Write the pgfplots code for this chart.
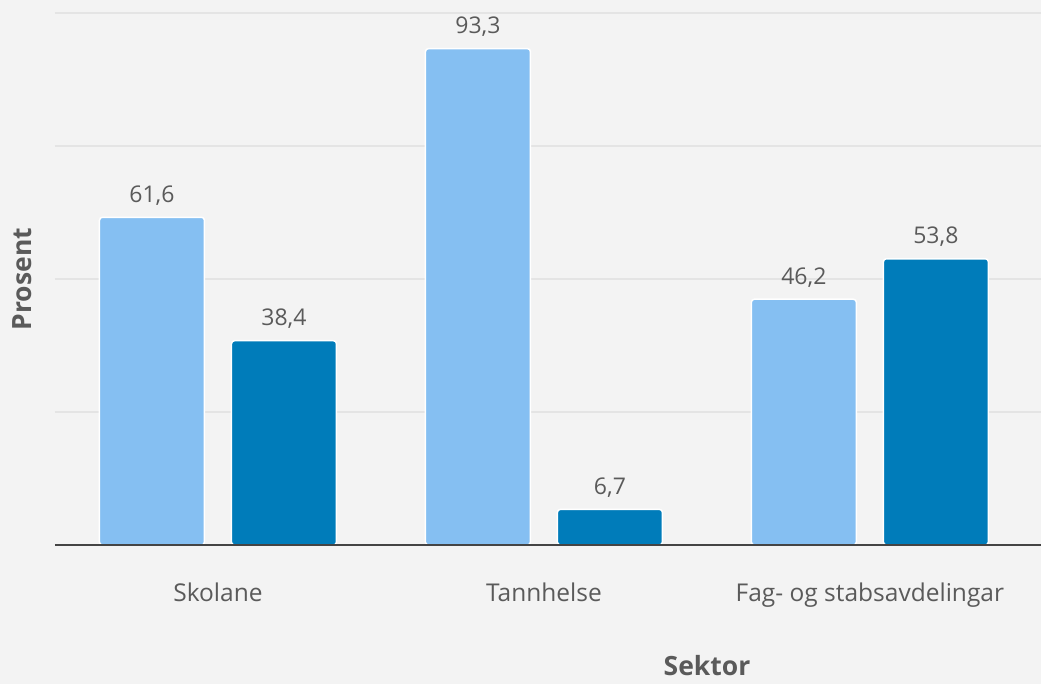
\documentclass[border=0pt]{standalone}
\usepackage{pgfplots}
\pgfplotsset{compat=1.18}
\usepackage{fontspec}
\setmainfont{Open Sans}
\definecolor{bg}{HTML}{F3F3F3}
\definecolor{lightb}{HTML}{85BFF2}
\definecolor{darkb}{HTML}{007CBA}
\definecolor{txt}{HTML}{5A5A5A}
\definecolor{gridc}{HTML}{E4E4E4}
\definecolor{axl}{HTML}{444444}
\begin{document}
\begin{tikzpicture}[x=1pt,y=1pt]
\useasboundingbox (-55,-139) rectangle (986,545);
\fill[bg] (-55,-139) rectangle (986,545);
\begin{axis}[
  at={(0,0)}, anchor=south west,
  scale only axis, width=986pt, height=532pt,
  xmin=-0.5, xmax=2.525, ymin=0, ymax=100,
  axis line style={draw=none},
  xtick={0,1,2}, xticklabels={Skolane,Tannhelse,Fag- og stabsavdelingar},
  ytick={25,50,75,100}, yticklabels={},
  ymajorgrids, grid style={color=gridc, line width=1.5pt},
  major tick length=0pt,
  xticklabel style={font=\fontsize{24.5}{28}\selectfont, text=txt, yshift=-34pt},
  ybar, bar width=105pt,
  nodes near coords,
  nodes near coords style={font=\fontsize{23}{26}\selectfont, text=txt, yshift=8pt,
    /pgf/number format/assume math mode=true,
    /pgf/number format/use comma, /pgf/number format/fixed, /pgf/number format/fixed zerofill, /pgf/number format/precision=1},
  xlabel={\bfseries Sektor}, xlabel style={font=\fontsize{26.5}{30}\selectfont, text=txt, at={(1,0)}, anchor=center, xshift=-334pt, yshift=-121pt},
  ylabel={\bfseries Prosent}, ylabel style={font=\fontsize{26.5}{30}\selectfont, text=txt, at={(0,0.5)}, anchor=center, yshift=33pt},
  clip=false,
]
\addplot[fill=lightb, draw=white, line width=1.5pt, rounded corners=3pt, bar shift=-66pt] coordinates {(0,61.6) (1,93.3) (2,46.2)};
\addplot[fill=darkb, draw=white, line width=1.5pt, rounded corners=3pt, bar shift=66pt] coordinates {(0,38.4) (1,6.7) (2,53.8)};
\draw[axl, line width=1.5pt] (axis cs:-0.5,0) -- (axis cs:2.525,0);
\end{axis}
\end{tikzpicture}
\end{document}
